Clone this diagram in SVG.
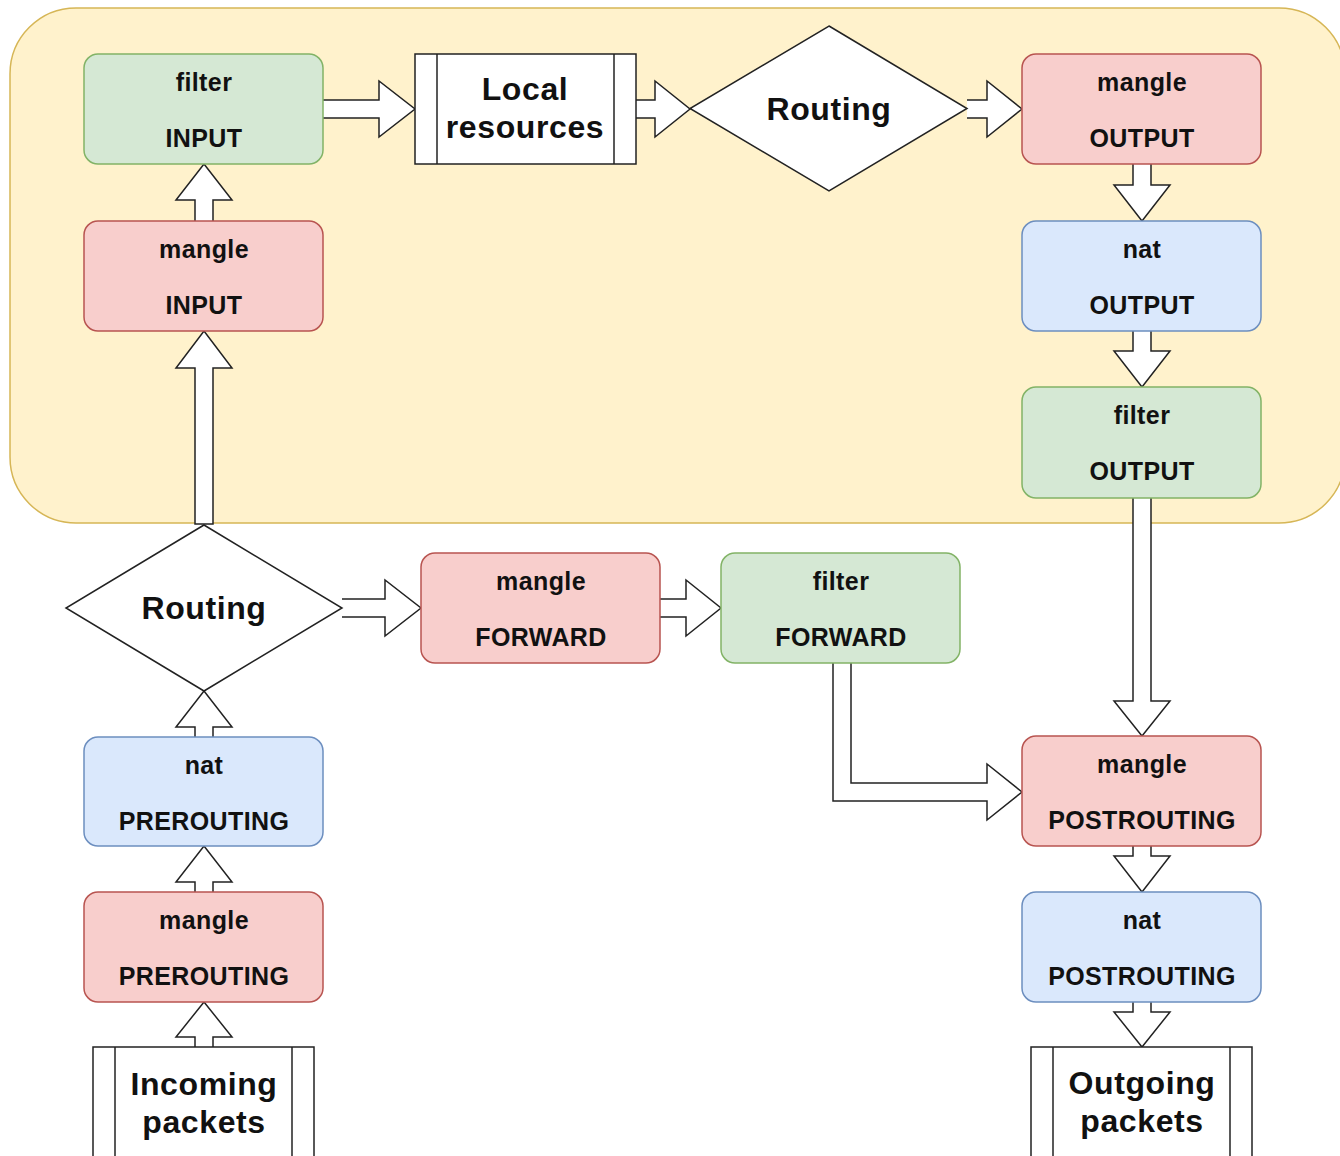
<svg xmlns="http://www.w3.org/2000/svg" width="1340" height="1156" viewBox="0 0 1340 1156">
<style>
.bx{stroke-width:1.5}
.red{fill:#f8cecc;stroke:#b85450}
.grn{fill:#d5e8d4;stroke:#82b366}
.blu{fill:#dae8fc;stroke:#6c8ebf}
.wht{fill:#fff;stroke:#222;stroke-width:1.5}
.arr{fill:#fff;stroke:#222;stroke-width:1.5;stroke-linejoin:miter}
.t{font-family:"Liberation Sans",Arial,sans-serif;font-weight:bold;font-size:25px;letter-spacing:0.4px;fill:#111;text-anchor:middle}
.tb{font-family:"Liberation Sans",Arial,sans-serif;font-weight:bold;font-size:32px;letter-spacing:0.6px;fill:#111;text-anchor:middle}
</style>
<rect id="container" x="10" y="8" width="1335" height="515" rx="66" ry="66" fill="#fff2cc" stroke="#d6b656" stroke-width="1.5"/>
<g id="connectors">
<path class="arr" d="M323,100 L379,100 L379,81 L415,109 L379,137 L379,118 L323,118"/>
<path class="arr" d="M636,100 L655,100 L655,81 L690,109 L655,137 L655,118 L636,118"/>
<path class="arr" d="M967,100 L987,100 L987,81 L1022,109 L987,137 L987,118 L967,118"/>
<path class="arr" d="M1133,164 L1133,185 L1114,185 L1142,221 L1170,185 L1151,185 L1151,164"/>
<path class="arr" d="M1133,331 L1133,351 L1114,351 L1142,387 L1170,351 L1151,351 L1151,331"/>
<path class="arr" d="M1133,498 L1133,701 L1114,701 L1142,736 L1170,701 L1151,701 L1151,498"/>
<path class="arr" d="M1133,846 L1133,856 L1114,856 L1142,892 L1170,856 L1151,856 L1151,846"/>
<path class="arr" d="M1133,1002 L1133,1012 L1114,1012 L1142,1047 L1170,1012 L1151,1012 L1151,1002"/>
<path class="arr" d="M195,1047 L195,1037 L176,1037 L204,1002 L232,1037 L213,1037 L213,1047"/>
<path class="arr" d="M195,892 L195,882 L176,882 L204,846 L232,882 L213,882 L213,892"/>
<path class="arr" d="M195,737 L195,727 L176,727 L204,691 L232,727 L213,727 L213,737"/>
<path class="arr" d="M195,524 L195,368 L176,368 L204,331 L232,368 L213,368 L213,524 Z"/>
<path class="arr" d="M195,221 L195,200 L176,200 L204,164 L232,200 L213,200 L213,221"/>
<path class="arr" d="M342,599 L385,599 L385,580 L421,608 L385,636 L385,617 L342,617"/>
<path class="arr" d="M660,599 L686,599 L686,580 L721,608 L686,636 L686,617 L660,617"/>
<path class="arr" d="M833,663 L833,801 L987,801 L987,820 L1022,792 L987,764 L987,783 L851,783 L851,663"/>
</g>
<g id="filter-input"><rect class="bx grn" x="84" y="54" width="239" height="110" rx="14"/><text class="t" x="204" y="91">filter</text><text class="t" x="204" y="147">INPUT</text></g>
<g id="mangle-input"><rect class="bx red" x="84" y="221" width="239" height="110" rx="14"/><text class="t" x="204" y="258">mangle</text><text class="t" x="204" y="314">INPUT</text></g>
<g id="local-resources"><rect class="wht" x="415" y="54" width="221" height="110"/><line class="wht" x1="437" y1="54" x2="437" y2="164"/><line class="wht" x1="614" y1="54" x2="614" y2="164"/><text class="tb" x="525" y="100">Local</text><text class="tb" x="525" y="138">resources</text></g>
<g id="routing-top"><polygon class="wht" points="829,26 967,108.5 829,191 690,108.5"/><text class="tb" x="829" y="120">Routing</text></g>
<g id="mangle-output"><rect class="bx red" x="1022" y="54" width="239" height="110" rx="14"/><text class="t" x="1142" y="91">mangle</text><text class="t" x="1142" y="147">OUTPUT</text></g>
<g id="nat-output"><rect class="bx blu" x="1022" y="221" width="239" height="110" rx="14"/><text class="t" x="1142" y="258">nat</text><text class="t" x="1142" y="314">OUTPUT</text></g>
<g id="filter-output"><rect class="bx grn" x="1022" y="387" width="239" height="111" rx="14"/><text class="t" x="1142" y="424">filter</text><text class="t" x="1142" y="480">OUTPUT</text></g>
<g id="routing-bottom"><polygon class="wht" points="204,525 342,608 204,691 66,608"/><text class="tb" x="204" y="619">Routing</text></g>
<g id="mangle-forward"><rect class="bx red" x="421" y="553" width="239" height="110" rx="14"/><text class="t" x="541" y="590">mangle</text><text class="t" x="541" y="646">FORWARD</text></g>
<g id="filter-forward"><rect class="bx grn" x="721" y="553" width="239" height="110" rx="14"/><text class="t" x="841" y="590">filter</text><text class="t" x="841" y="646">FORWARD</text></g>
<g id="nat-prerouting"><rect class="bx blu" x="84" y="737" width="239" height="109" rx="14"/><text class="t" x="204" y="774">nat</text><text class="t" x="204" y="830">PREROUTING</text></g>
<g id="mangle-prerouting"><rect class="bx red" x="84" y="892" width="239" height="110" rx="14"/><text class="t" x="204" y="929">mangle</text><text class="t" x="204" y="985">PREROUTING</text></g>
<g id="incoming-packets"><rect class="wht" x="93" y="1047" width="221" height="120"/><line class="wht" x1="115" y1="1047" x2="115" y2="1160"/><line class="wht" x1="292" y1="1047" x2="292" y2="1160"/><text class="tb" x="204" y="1095">Incoming</text><text class="tb" x="204" y="1133">packets</text></g>
<g id="mangle-postrouting"><rect class="bx red" x="1022" y="736" width="239" height="110" rx="14"/><text class="t" x="1142" y="773">mangle</text><text class="t" x="1142" y="829">POSTROUTING</text></g>
<g id="nat-postrouting"><rect class="bx blu" x="1022" y="892" width="239" height="110" rx="14"/><text class="t" x="1142" y="929">nat</text><text class="t" x="1142" y="985">POSTROUTING</text></g>
<g id="outgoing-packets"><rect class="wht" x="1031" y="1047" width="221" height="120"/><line class="wht" x1="1053" y1="1047" x2="1053" y2="1160"/><line class="wht" x1="1230" y1="1047" x2="1230" y2="1160"/><text class="tb" x="1142" y="1094">Outgoing</text><text class="tb" x="1142" y="1132">packets</text></g>
</svg>
